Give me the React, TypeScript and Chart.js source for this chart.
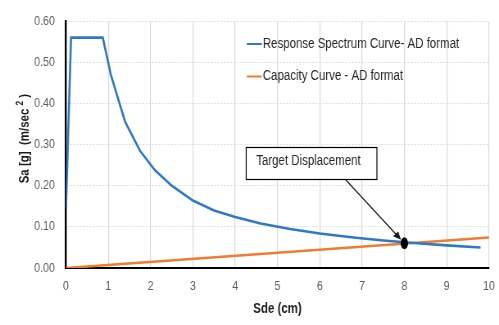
import React, { useEffect, useRef } from "react";
import { Chart, registerables } from "chart.js";

Chart.register(...registerables);

const respLabel = "Response Spectrum Curve- AD format";
const capLabel = "Capacity Curve - AD format";
const sdResp = [0, 0.12, 0.87, 1.06, 1.4, 1.75, 2.1, 2.5, 3.0, 3.5, 4.0, 4.6, 5.3, 6.0, 6.8, 7.5, 8.3, 9.0, 9.8];
const saResp = [0.145, 0.56, 0.56, 0.47, 0.355, 0.285, 0.238, 0.2, 0.164, 0.14, 0.124, 0.108, 0.095, 0.084, 0.074, 0.067, 0.06, 0.055, 0.05];
const sdCap = [0, 10];
const saCap = [0, 0.074];
const targetSd = 8;
const targetSa = 0.06;
const targetText = "Target Displacement";
const boxSd = [4.26, 7.35];
const boxSa = [0.294, 0.216];
const arrowStart = [6.6, 0.216];
const xTitle = "Sde (cm)";
const yTitleMain = "Sa [g]  (m/sec ";
const yTitleSup = "2";
const yTitleEnd = " )";

// Narrow-font emulation: canvas is drawn wider and shown horizontally compressed
const SX = 0.82;
const W = 499;
const H = 325;
const CW = Math.round(W / SX);

const FONT = "'Liberation Sans', Arial, sans-serif";
const BLUE = "#2f78c2";
const ORANGE = "#ed7d31";

const overlay = {
  id: "overlay",
  afterDatasetsDraw(chart: any) {
    const { ctx, scales } = chart;
    const xs = scales.x;
    const ys = scales.y;
    ctx.save();
    // legend
    const items = [
      { label: chart.data.datasets[0].label, color: BLUE, y: 44 },
      { label: chart.data.datasets[1].label, color: ORANGE, y: 76.5 },
    ];
    ctx.font = `14px ${FONT}`;
    ctx.textBaseline = "middle";
    ctx.textAlign = "left";
    items.forEach((it) => {
      ctx.strokeStyle = it.color;
      ctx.lineWidth = 2;
      ctx.beginPath();
      ctx.moveTo(247 / SX, it.y);
      ctx.lineTo(262 / SX, it.y);
      ctx.stroke();
      ctx.fillStyle = "#262626";
      ctx.fillText(it.label, 263 / SX, it.y);
    });
    // annotation box
    const bx1 = xs.getPixelForValue(boxSd[0]);
    const bx2 = xs.getPixelForValue(boxSd[1]);
    const by1 = ys.getPixelForValue(boxSa[0]);
    const by2 = ys.getPixelForValue(boxSa[1]);
    ctx.fillStyle = "#ffffff";
    ctx.fillRect(bx1, by1, bx2 - bx1, by2 - by1);
    ctx.strokeStyle = "#000000";
    ctx.lineWidth = 1.2;
    ctx.strokeRect(bx1, Math.round(by1) + 0.5, bx2 - bx1, Math.round(by2 - by1));
    ctx.fillStyle = "#262626";
    ctx.font = `14px ${FONT}`;
    ctx.fillText(targetText, bx1 + 10 / SX, (by1 + by2) / 2 - 2);
    // arrow
    const tx = xs.getPixelForValue(targetSd);
    const ty = ys.getPixelForValue(targetSa);
    const sx = xs.getPixelForValue(arrowStart[0]);
    const sy = ys.getPixelForValue(arrowStart[1]);
    const ang = Math.atan2(ty - sy, (tx - sx) * SX);
    const c = Math.cos(ang) / SX;
    const s = Math.sin(ang);
    const ex = tx - 5 * c;
    const ey = ty - 5 * s;
    ctx.strokeStyle = "#1a1a1a";
    ctx.lineWidth = 1.3;
    ctx.beginPath();
    ctx.moveTo(sx, sy);
    ctx.lineTo(ex - 6 * c, ey - 6 * s);
    ctx.stroke();
    ctx.fillStyle = "#1a1a1a";
    const pc = Math.cos(ang);
    const ps = Math.sin(ang);
    ctx.beginPath();
    ctx.moveTo(ex, ey);
    ctx.lineTo(ex + (-8 * pc + 3.5 * ps) / SX, ey - 8 * ps - 3.5 * pc);
    ctx.lineTo(ex + (-8 * pc - 3.5 * ps) / SX, ey - 8 * ps + 3.5 * pc);
    ctx.closePath();
    ctx.fill();
    // marker
    ctx.fillStyle = "#000000";
    ctx.beginPath();
    ctx.ellipse(tx, ty, 3.6 / SX, 6, 0, 0, Math.PI * 2);
    ctx.fill();
    ctx.restore();

    // y-axis title (rotated; narrow along its length)
    ctx.save();
    const cy = (chart.chartArea.top + chart.chartArea.bottom) / 2 - 6;
    ctx.translate(25 / SX, cy);
    ctx.rotate(-Math.PI / 2);
    ctx.scale(SX, 1 / SX);
    ctx.fillStyle = "#1a1a1a";
    ctx.textBaseline = "middle";
    ctx.textAlign = "left";
    const fMain = `bold 14px ${FONT}`;
    const fSup = `bold 10px ${FONT}`;
    ctx.font = fMain;
    const w1 = ctx.measureText(yTitleMain).width;
    const w3 = ctx.measureText(yTitleEnd).width;
    ctx.font = fSup;
    const w2 = ctx.measureText(yTitleSup).width;
    const total = w1 + w2 + w3;
    let x0 = -total / 2;
    ctx.font = fMain;
    ctx.fillText(yTitleMain, x0, 0);
    x0 += w1;
    ctx.font = fSup;
    ctx.fillText(yTitleSup, x0, -5);
    x0 += w2;
    ctx.font = fMain;
    ctx.fillText(yTitleEnd, x0, 0);
    ctx.restore();
  },
};

export default function App() {
  const ref = useRef<HTMLCanvasElement | null>(null);
  useEffect(() => {
    if (!ref.current) return;
    const chart = new Chart(ref.current, {
      type: "line",
      data: {
        datasets: [
          { label: respLabel, data: sdResp.map((x, i) => ({ x, y: saResp[i] })), borderColor: BLUE, backgroundColor: BLUE, borderWidth: 2.6, pointRadius: 0, tension: 0 },
          { label: capLabel, data: sdCap.map((x, i) => ({ x, y: saCap[i] })), borderColor: ORANGE, backgroundColor: ORANGE, borderWidth: 2.6, pointRadius: 0, tension: 0 },
        ],
      },
      options: {
        animation: false,
        responsive: false,
        devicePixelRatio: 1,
        layout: { padding: { left: 0, top: 15, right: 10 / SX, bottom: 0 } },
        plugins: { legend: { display: false }, tooltip: { enabled: false } },
        scales: {
          x: {
            type: "linear", min: 0, max: 10,
            afterFit: (s: any) => { s.height = 57; },
            ticks: { stepSize: 1, color: "#595959", font: { family: FONT, size: 13 }, padding: 0, maxRotation: 0 },
            grid: { color: "#d9d9d9", lineWidth: 1.2, drawTicks: true, tickLength: 11, tickColor: "rgba(0,0,0,0)" },
            border: { color: "#000000", width: 2 },
            title: { display: true, text: xTitle, color: "#1a1a1a", font: { family: FONT, size: 14, weight: "bold" }, padding: { top: 0, bottom: 7 } },
          },
          y: {
            min: 0, max: 0.6,
            afterFit: (s: any) => { s.width = 66 / SX; },
            ticks: { stepSize: 0.1, color: "#595959", font: { family: FONT, size: 13 }, padding: 11 / SX, callback: (v: any) => Number(v).toFixed(2) },
            grid: { color: "#d9d9d9", lineWidth: 1, drawTicks: false },
            border: { color: "#000000", width: 2.4, dash: [2, 2] },
          },
        },
      } as any,
      plugins: [overlay],
    });
    return () => chart.destroy();
  }, []);
  return (
    <div style={{ position: "fixed", left: 0, top: 0, width: W, height: H, background: "#fff", overflow: "hidden" }}>
      <canvas ref={ref} width={CW} height={H} style={{ width: W, height: H, display: "block" }} />
    </div>
  );
}
